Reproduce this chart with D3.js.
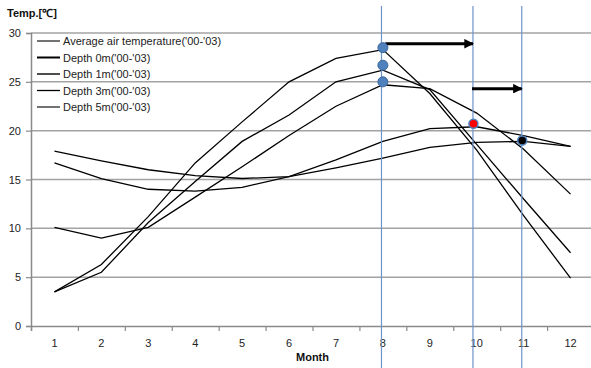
<!DOCTYPE html>
<html>
<head>
<meta charset="utf-8">
<script src="https://cdn.jsdelivr.net/npm/d3@7"></script>
<style>
  body { margin: 0; background: #fff; }
  svg { display: block; font-family: "Liberation Sans", Arial, sans-serif; }
</style>
</head>
<body>
<div id="chart"></div>
<script>
var months = [1, 2, 3, 4, 5, 6, 7, 8, 9, 10, 11, 12];
var yTicks = [0, 5, 10, 15, 20, 25, 30];

var seriesNames = ["Average air temperature('00-'03)", "Depth 0m('00-'03)", "Depth 1m('00-'03)", "Depth 3m('00-'03)", "Depth 5m('00-'03)"];
var airTemp = [3.5, 6.3, 11.2, 16.7, 20.9, 25.0, 27.4, 28.3, 23.8, 18.0, 11.3, 4.9];
var depth0 = [3.5, 5.5, 10.6, 14.8, 18.9, 21.6, 25.0, 26.2, 24.2, 18.6, 13.0, 7.5];
var depth1 = [10.1, 9.0, 10.1, 13.2, 16.3, 19.5, 22.5, 24.7, 24.3, 21.8, 18.1, 13.5];
var depth3 = [17.9, 16.9, 16.0, 15.4, 15.1, 15.3, 17.0, 18.9, 20.2, 20.4, 19.5, 18.4];
var depth5 = [16.7, 15.1, 14.0, 13.8, 14.2, 15.3, 16.2, 17.2, 18.3, 18.8, 18.9, 18.4];
var legendWidths = [1.1, 2, 1.4, 1.3, 1.1];

// marker lines, points and arrows (month, value)
var markerMonths = [7.97, 9.92, 10.96];
var blueDots = [28.5, 26.7, 25.0];
var redDot = [9.93, 20.7];
var blackDot = [10.97, 19.0];
var arrows = [
  { from: 8.05, to: 9.92, value: 28.9 },
  { from: 9.9, to: 10.96, value: 24.3 }
];

var width = 591, height = 368;

var x = d3.scaleLinear().domain([0.5, 12.5]).range([31, 594]);
var y = d3.scaleLinear().domain([0, 30]).range([326, 33]);

var svg = d3.select("#chart").append("svg")
  .attr("width", width)
  .attr("height", height);

svg.append("defs").append("marker")
  .attr("id", "head")
  .attr("viewBox", "0 0 10 10")
  .attr("refX", 9).attr("refY", 5)
  .attr("markerWidth", 3.6).attr("markerHeight", 3.2)
  .attr("markerUnits", "strokeWidth")
  .attr("orient", "auto")
  .append("path")
  .attr("d", "M0,0L10,5L0,10z")
  .attr("fill", "#000");

// gridlines
svg.append("g")
  .selectAll("line")
  .data(yTicks.slice(1))
  .enter().append("line")
  .attr("x1", x(0.5)).attr("x2", x(12.5))
  .attr("y1", function(d) { return y(d); })
  .attr("y2", function(d) { return y(d); })
  .attr("stroke", "#a3a3a3")
  .attr("stroke-width", 1.5);

// Y axis
var yAxis = d3.axisLeft(y).tickValues(yTicks).tickSize(5).tickPadding(5);
var gy = svg.append("g")
  .attr("transform", "translate(" + x(0.5) + ",0)")
  .call(yAxis);
gy.select(".domain").attr("stroke", "#8a8a8a").attr("stroke-width", 1.5);
gy.selectAll(".tick line").attr("stroke", "#8a8a8a").attr("stroke-width", 1.2);
gy.selectAll(".tick text").attr("font-size", 11).attr("fill", "#222")
  .attr("font-family", "Liberation Sans, Arial, sans-serif");

// X axis (category boundaries as ticks)
var bounds = d3.range(0, months.length + 1).map(function(i) { return i + 0.5; });
var xAxis = d3.axisBottom(x).tickValues(bounds).tickSize(5).tickFormat("");
var gx = svg.append("g")
  .attr("transform", "translate(0," + y(0) + ")")
  .call(xAxis);
gx.select(".domain").attr("stroke", "#8a8a8a").attr("stroke-width", 1.5);
gx.selectAll(".tick line").attr("stroke", "#8a8a8a").attr("stroke-width", 1.2);

svg.append("g")
  .selectAll("text")
  .data(months)
  .enter().append("text")
  .attr("x", function(d) { return x(d); })
  .attr("y", y(0) + 21)
  .attr("text-anchor", "middle")
  .attr("font-size", 11)
  .attr("fill", "#222")
  .text(function(d) { return d; });

svg.append("text")
  .attr("x", x(6.5))
  .attr("y", 361)
  .attr("text-anchor", "middle")
  .attr("font-size", 11)
  .attr("font-weight", "bold")
  .attr("fill", "#111")
  .text("Month");

svg.append("text")
  .attr("x", 7)
  .attr("y", 17)
  .attr("font-size", 11)
  .attr("font-weight", "bold")
  .attr("fill", "#111")
  .text("Temp.[℃]");

// series lines
var allSeries = [airTemp, depth0, depth1, depth3, depth5];
var line = d3.line()
  .x(function(d, i) { return x(months[i]); })
  .y(function(d) { return y(d); });

svg.append("g")
  .selectAll("path")
  .data(allSeries)
  .enter().append("path")
  .attr("d", line)
  .attr("fill", "none")
  .attr("stroke", "#000")
  .attr("stroke-width", 1.3);

// legend
var legend = svg.append("g").attr("transform", "translate(37,41)");
var rows = legend.selectAll("g")
  .data(seriesNames)
  .enter().append("g")
  .attr("transform", function(d, i) { return "translate(0," + (i * 16.5) + ")"; });
rows.append("line")
  .attr("x1", 0).attr("x2", 23)
  .attr("stroke", "#000")
  .attr("stroke-width", function(d, i) { return legendWidths[i]; });
rows.append("text")
  .attr("x", 26)
  .attr("y", 4)
  .attr("font-size", 11)
  .attr("fill", "#222")
  .text(function(d) { return d; });

// vertical marker lines
svg.append("g")
  .selectAll("line")
  .data(markerMonths)
  .enter().append("line")
  .attr("x1", function(d) { return x(d); })
  .attr("x2", function(d) { return x(d); })
  .attr("y1", 6).attr("y2", height)
  .attr("stroke", "#6f94cc")
  .attr("stroke-width", 1.2);

// arrows
svg.append("g")
  .selectAll("line")
  .data(arrows)
  .enter().append("line")
  .attr("x1", function(d) { return x(d.from); })
  .attr("x2", function(d) { return x(d.to); })
  .attr("y1", function(d) { return y(d.value); })
  .attr("y2", function(d) { return y(d.value); })
  .attr("stroke", "#000")
  .attr("stroke-width", 3)
  .attr("marker-end", "url(#head)");

// dots
svg.append("g")
  .selectAll("circle")
  .data(blueDots)
  .enter().append("circle")
  .attr("cx", x(8))
  .attr("cy", function(d) { return y(d); })
  .attr("r", 5)
  .attr("fill", "#4f81bd")
  .attr("stroke", "#3b679c")
  .attr("stroke-width", 1);

svg.append("circle")
  .attr("cx", x(redDot[0])).attr("cy", y(redDot[1]))
  .attr("r", 4.5)
  .attr("fill", "#ff0000")
  .attr("stroke", "#4f81bd")
  .attr("stroke-width", 1.5);

svg.append("circle")
  .attr("cx", x(blackDot[0])).attr("cy", y(blackDot[1]))
  .attr("r", 4.5)
  .attr("fill", "#000")
  .attr("stroke", "#4f81bd")
  .attr("stroke-width", 1.5);
</script>
</body>
</html>
